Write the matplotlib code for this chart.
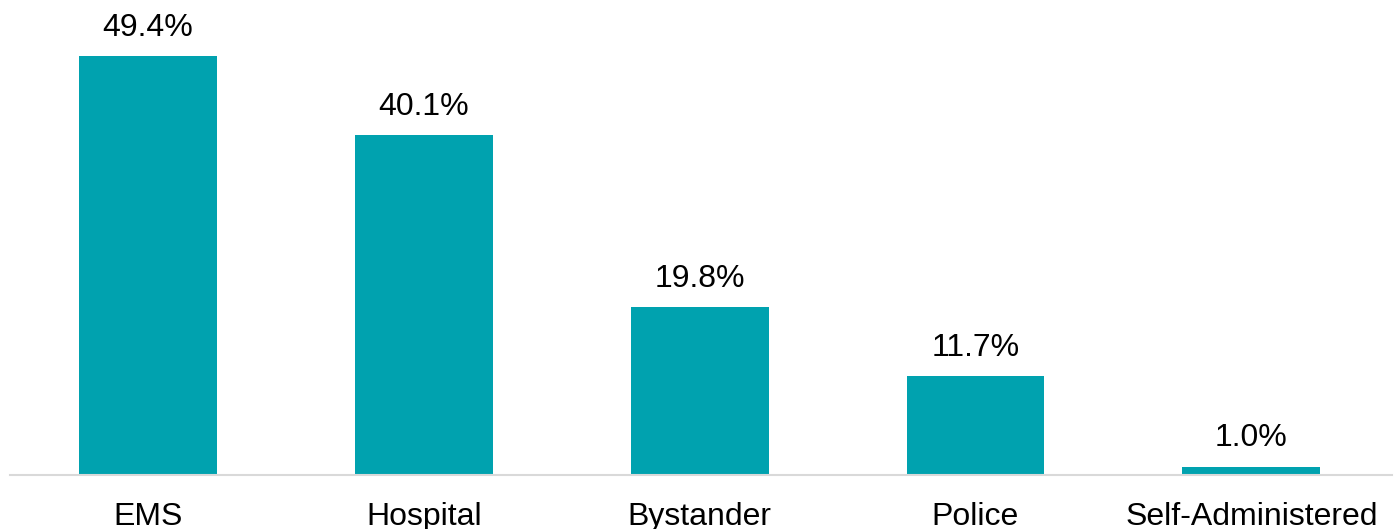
import matplotlib
matplotlib.use("Agg")
import matplotlib.pyplot as plt

categories = ["EMS", "Hospital", "Bystander", "Police", "Self-Administered"]
values = [49.4, 40.1, 19.8, 11.7, 1.0]

plt.rcParams['font.family'] = ['Liberation Sans', 'DejaVu Sans']

fig = plt.figure(figsize=(13.94, 5.29), dpi=100)
ax = fig.add_axes([10 / 1394, 54 / 529, 1382 / 1394, 475 / 529])

x = range(len(categories))
bars = ax.bar(x, values, width=0.5, color='#00A2AF')

for b, v in zip(bars, values):
    ax.annotate(f"{v:.1f}%", (b.get_x() + b.get_width() / 2, v),
                xytext=(0, 9.5), textcoords='offset points',
                ha='center', va='bottom', fontsize=23, color='black')

ax.set_xlim(-0.5, len(categories) - 0.49)
ax.set_ylim(0, 56)
ax.set_xticks(list(x))
ax.set_xticklabels(categories, fontsize=23)
ax.tick_params(axis='x', length=0, pad=19.5)
ax.set_yticks([])
for s in ['top', 'right', 'left']:
    ax.spines[s].set_visible(False)
ax.spines['bottom'].set_color('#d9d9d9')
ax.spines['bottom'].set_linewidth(1.5)

fig.savefig("out.png", dpi=100)
